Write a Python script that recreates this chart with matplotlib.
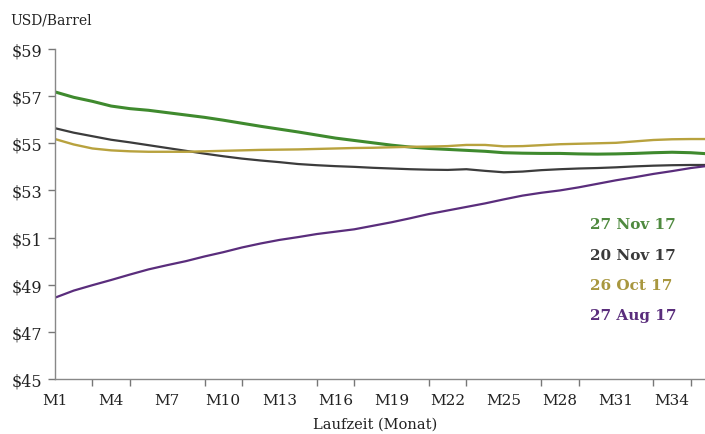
import matplotlib
matplotlib.use("Agg")
import matplotlib.pyplot as plt
import numpy as np

months = list(range(1, 37))
label_months = [1, 4, 7, 10, 13, 16, 19, 22, 25, 28, 31, 34]
tick_labels = ["M%d" % m for m in label_months]
y_ticks = [45, 47, 49, 51, 53, 55, 57, 59]
y_tick_labels = ["$%d" % v for v in y_ticks]

nov27 = [57.18, 56.95, 56.78, 56.58, 56.47, 56.40, 56.30, 56.20, 56.10, 55.98,
         55.85, 55.72, 55.60, 55.48, 55.35, 55.22, 55.12, 55.02, 54.92, 54.84,
         54.78, 54.74, 54.70, 54.66, 54.60, 54.58, 54.57, 54.57, 54.55, 54.54,
         54.55, 54.57, 54.60, 54.62, 54.60, 54.55]
nov20 = [55.64, 55.45, 55.30, 55.15, 55.04, 54.92, 54.80, 54.68, 54.56, 54.45,
         54.35, 54.27, 54.20, 54.12, 54.07, 54.03, 54.00, 53.96, 53.93, 53.90,
         53.88, 53.87, 53.90, 53.83, 53.77, 53.80, 53.86, 53.90, 53.93, 53.95,
         53.98, 54.02, 54.05, 54.07, 54.08, 54.08]
oct26 = [55.18, 54.95, 54.78, 54.70, 54.66, 54.64, 54.64, 54.64, 54.66, 54.68,
         54.70, 54.72, 54.73, 54.74, 54.76, 54.78, 54.80, 54.81, 54.83, 54.85,
         54.86, 54.88, 54.93, 54.93, 54.87, 54.88, 54.92, 54.96, 54.98, 55.00,
         55.02, 55.08, 55.14, 55.17, 55.18, 55.18]
aug27 = [48.45, 48.75, 48.98, 49.20, 49.43, 49.65, 49.83, 50.00, 50.20, 50.38,
         50.58, 50.75, 50.90, 51.02, 51.15, 51.25, 51.35, 51.50, 51.65, 51.82,
         52.00, 52.15, 52.30, 52.45, 52.62, 52.78, 52.90, 53.00, 53.13, 53.28,
         53.43, 53.56, 53.70, 53.82, 53.95, 54.05]

series_labels = ["27 Nov 17", "20 Nov 17", "26 Oct 17", "27 Aug 17"]
series = [nov27, nov20, oct26, aug27]
line_colors = ["#3f8a2e", "#3c3c3c", "#b8a23e", "#5a2d7c"]
text_colors = ["#4f8a3f", "#3a3a3a", "#a8973f", "#5a2d7c"]
widths = [2.2, 1.6, 1.7, 1.6]

fig = plt.figure(figsize=(7.05, 4.35), dpi=100)
ax = fig.add_axes([55/705, 1-380/435, 1-55/705, (380-50)/435])

for vals, c, w in zip(series, line_colors, widths):
    ax.plot(months, vals, color=c, lw=w, solid_capstyle="round")

ax.set_xlim(1, 1 + (705-55)/18.7)
ax.set_ylim(45, 59)
ax.set_yticks(y_ticks)
ax.set_yticklabels(y_tick_labels, fontfamily="DejaVu Serif", fontsize=11.5, color="#222222")
ax.set_xticks(label_months)
ax.set_xticklabels(tick_labels, fontfamily="DejaVu Serif", fontsize=11, color="#222222")
ax.set_xticks(list(range(1, 36, 2)), minor=True)
ax.tick_params(axis="x", which="major", length=0, pad=10)
ax.tick_params(axis="x", which="minor", length=5, width=1, color="#777777", direction="out")
ax.tick_params(axis="y", length=5, width=1, color="#777777", direction="out", pad=4)

for s in ["top", "right"]:
    ax.spines[s].set_visible(False)
for s in ["left", "bottom"]:
    ax.spines[s].set_color("#888888")
    ax.spines[s].set_linewidth(1)

fig.text(10/705, 1-20/435, "USD/Barrel", fontfamily="DejaVu Serif", fontsize=10,
         color="#222222", va="center", ha="left")
fig.text(375/705, 1-425/435, "Laufzeit (Monat)", fontfamily="DejaVu Serif", fontsize=10.5,
         color="#222222", va="center", ha="center")

for i, (lab, c) in enumerate(zip(series_labels, text_colors)):
    fig.text(590/705, 1-(225+30.5*i)/435, lab, fontfamily="DejaVu Serif", fontweight="bold",
             fontsize=11, color=c, va="center", ha="left")

fig.savefig("out.png", dpi=100)
